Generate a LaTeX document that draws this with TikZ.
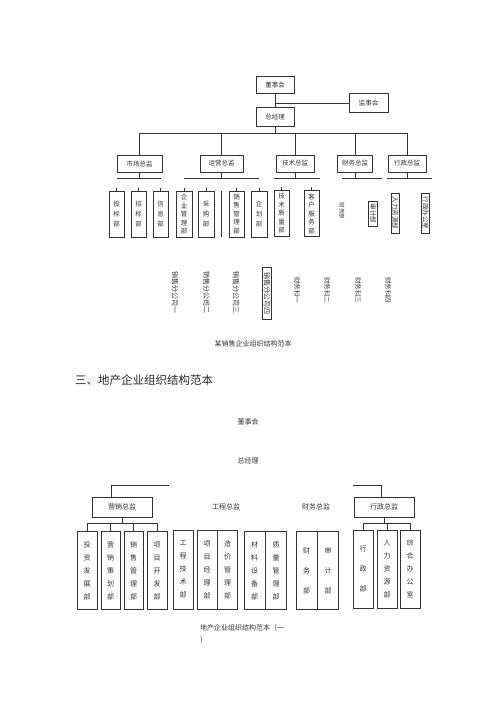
\documentclass[tikz,border=0pt]{standalone}
\usepackage{fontspec}
\setmainfont{Noto Sans CJK SC}
\usetikzlibrary{positioning}

\begin{document}
\begin{tikzpicture}[x=1pt,y=-1pt]
\tikzstyle{unit}=[rectangle, draw=black!80, line width=0.7pt, inner sep=0pt, text=black!80, font={\fontsize{6.5}{7}\selectfont}]
\tikzstyle{head}=[unit, minimum height=17]
\tikzstyle{dept}=[unit, minimum width=15, minimum height=46, align=center, font={\fontsize{6.5}{8.5}\selectfont}]
\tikzstyle{deptshort}=[dept, font={\fontsize{6.5}{10}\selectfont}]
\tikzstyle{side}=[rotate=-90, inner sep=0pt, text=black!80, font={\fontsize{6.5}{7}\selectfont}]
\tikzstyle{sidebox}=[side, draw=black!80, line width=0.7pt]
\tikzstyle{plain}=[inner sep=0pt, text=black!80, font={\fontsize{7}{8}\selectfont}]
\tikzstyle{post}=[unit, minimum width=60, minimum height=20, font={\fontsize{7}{8}\selectfont}]
\tikzstyle{office}=[unit, minimum width=20, minimum height=78, align=center, font={\fontsize{7}{13}\selectfont}]
\tikzstyle{officeshort}=[office, font={\fontsize{7}{20}\selectfont}]
\tikzstyle{link}=[draw=black!80, line width=0.6pt]
\useasboundingbox (0,0) rectangle (500,707);
% 1. Top chart
%%%%%%%%%%
\node[unit, minimum width=38, minimum height=17] (board) at (275,85) {董事会};
\node[unit, minimum width=38, minimum height=19] (gm) at (275,117) {总经理};
\node[unit, minimum width=39, minimum height=19] (supervisors) at (368.5,103) {监事会};

\node[head, minimum width=45] (market) at (139.5,163.5) {市场总监};
\node[head, minimum width=43] (operation) at (221.5,163.5) {运营总监};
\node[head, minimum width=38] (tech) at (295,163.5) {技术总监};
\node[head, minimum width=35] (finance) at (355,163.5) {财务总监};
\node[head, minimum width=38] (admin) at (407,163.5) {行政总监};

\node[deptshort] (bid) at (116.5,214) {投\\标\\部};
\node[deptshort] (tender) at (138.5,214) {招\\标\\部};
\node[deptshort] (info) at (160.5,214) {信\\息\\部};
\node[dept, minimum width=16] (enterprise) at (184,214) {企\\业\\管\\理\\部};
\node[deptshort, minimum width=16] (purchase) at (206,214) {采\\购\\部};
\node[dept] (salesmgmt) at (236.5,214) {销\\售\\管\\理\\部};
\node[deptshort, minimum width=16] (planning) at (259,214) {企\\划\\部};
\node[dept] (quality) at (281.5,213.5) {技\\术\\质\\量\\部};
\node[dept] (service) at (311.5,213.5) {客\\户\\服\\务\\部};

\node[side, font={\fontsize{5.5}{6}\selectfont}] (accounts) at (342,211) {财务部};
\node[sidebox, minimum width=25, minimum height=9] (audit) at (373,213.5) {审计部};
\node[sidebox, minimum width=40, minimum height=8] (hr) at (395,213) {人力资源部};
\node[sidebox, minimum width=40, minimum height=8] (office) at (425.5,213) {行政办公室};

\node[side, font={\fontsize{7}{8}\selectfont}] (branch1) at (175,292) {销售分公司一};
\node[side, font={\fontsize{7}{8}\selectfont}] (branch2) at (206.5,292) {销售分公司二};
\node[side, font={\fontsize{7}{8}\selectfont}] (branch3) at (236,292) {销售分公司三};
\node[sidebox, minimum width=52, minimum height=9, font={\fontsize{7}{8}\selectfont}] (branch4) at (267,293) {销售分公司四};
\node[side] (section1) at (297,290) {财务科一};
\node[side] (section2) at (327,290) {财务科二};
\node[side] (section3) at (358,290) {财务科三};
\node[side] (section4) at (388,290) {财务科四};

\node[plain] (caption1) at (253,344) {某销售企业组织结构范本};

% 2. Top connectors
%%%%%%%%%%%
\draw[link] (board) -- (gm);
\draw[link] (board.south |- supervisors.west) -- (supervisors.west);
\coordinate (bus) at (0,133);
\draw[link] (gm) -- (gm |- bus);
\draw[link] (market) |- (bus -| admin) -- (admin);
\foreach \n in {operation, tech, finance}
  \draw[link] (\n) -- (\n |- bus);

\draw[link] (market.south) -- ++(0,6) coordinate (subA);
\draw[link] (operation.south) -- ++(0,6) coordinate (subB);
\draw[link] (tech.south) -- ++(0,6) coordinate (subC);
\draw[link] (finance.south) -- ++(0,6) coordinate (subD);
\draw[link] (admin.south) -- ++(0,6) coordinate (subE);
\draw[link] (subA -| bid) -- (subA -| info);
\draw[link] (subB -| enterprise) -- (subB -| planning);
\draw[link] ([xshift=-8pt]subC -| quality) -- ([xshift=8pt]subC -| service);
\draw[link] (subD -| accounts) -- ([xshift=9pt]subD -| audit);
\draw[link] ([xshift=-8pt]subE -| hr) -- ([xshift=6pt]subE -| office);
\foreach \d in {bid, tender, info, enterprise, purchase, salesmgmt, planning, quality, service}
  \draw[link] (\d.north) -- ++(0,-3);
\draw[link] (operation.south |- enterprise.north) -- (operation.south |- enterprise.south);

% 3. Bottom chart
%%%%%%%%%%
\node[anchor=west, inner sep=0pt, text=black!85, font={\fontsize{11.5}{12}\selectfont}] (heading) at (75,380) {三、地产企业组织结构范本};
\node[plain] (board2) at (248,422) {董事会};
\node[plain] (gm2) at (248,461) {总经理};
\coordinate (leftend) at (169,485);
\coordinate (rightend) at (353,485);

\node[post] (salesdir) at (122,507) {营销总监};
\node[plain] (engdir) at (226,507) {工程总监};
\node[plain] (findir) at (316,507) {财务总监};
\node[post] (admindir) at (384,507) {行政总监};

\node[office] (invest) at (87,570.5) {投\\资\\发\\展\\部};
\node[office, minimum width=19] (marketing) at (110.5,570.5) {营\\销\\策\\划\\部};
\node[office, minimum width=19] (sales) at (133.5,570.5) {销\\售\\管\\理\\部};
\node[office] (project) at (157,570.5) {项\\目\\开\\发\\部};
\node[office, minimum height=79] (engtech) at (183,569.5) {工\\程\\技\\术\\部};
\node[office, minimum height=79] (pm) at (207,569.5) {项\\目\\经\\理\\部};
\node[office, minimum height=79] (cost) [right=0pt of pm] {造\\价\\管\\理\\部};
\node[office, minimum width=21] (material) at (254.5,570.5) {材\\料\\设\\备\\部};
\node[office, minimum width=21] (qc) [right=0pt of material] {质\\量\\管\\理\\部};
\node[officeshort, minimum width=21] (accounts2) at (306.5,570.5) {财\\务\\部};
\node[officeshort, minimum width=21] (audit2) [right=0pt of accounts2] {审\\计\\部};
\node[officeshort, minimum height=78] (adminoff) at (363,569) {行\\政\\部};
\node[office] (hr2) at (387,569) {人\\力\\资\\源\\部};
\node[office] (general) at (410,569) {综\\合\\办\\公\\室};

\node[plain, align=left, anchor=north west, font={\fontsize{7}{12}\selectfont}] (caption2) at (200,624) {地产企业组织结构范本（一\\）};

% 4. Bottom connectors
%%%%%%%%%%%
\draw[link] (leftend) -| ([xshift=-11pt]salesdir.north);
\draw[link] (rightend) -| ([xshift=-3pt]admindir.north);
\draw[link] (salesdir.south) -- ++(0,6) coordinate (subF);
\draw[link] (invest) |- (subF) -| (project);
\foreach \d in {marketing, sales}
  \draw[link] (\d) -- (\d |- subF);
\draw[link] (admindir.south) -- ++(0,6) coordinate (subG);
\draw[link] (adminoff) |- (subG) -| (general);
\draw[link] (hr2) -- (hr2 |- subG);

\end{tikzpicture}
\end{document}
